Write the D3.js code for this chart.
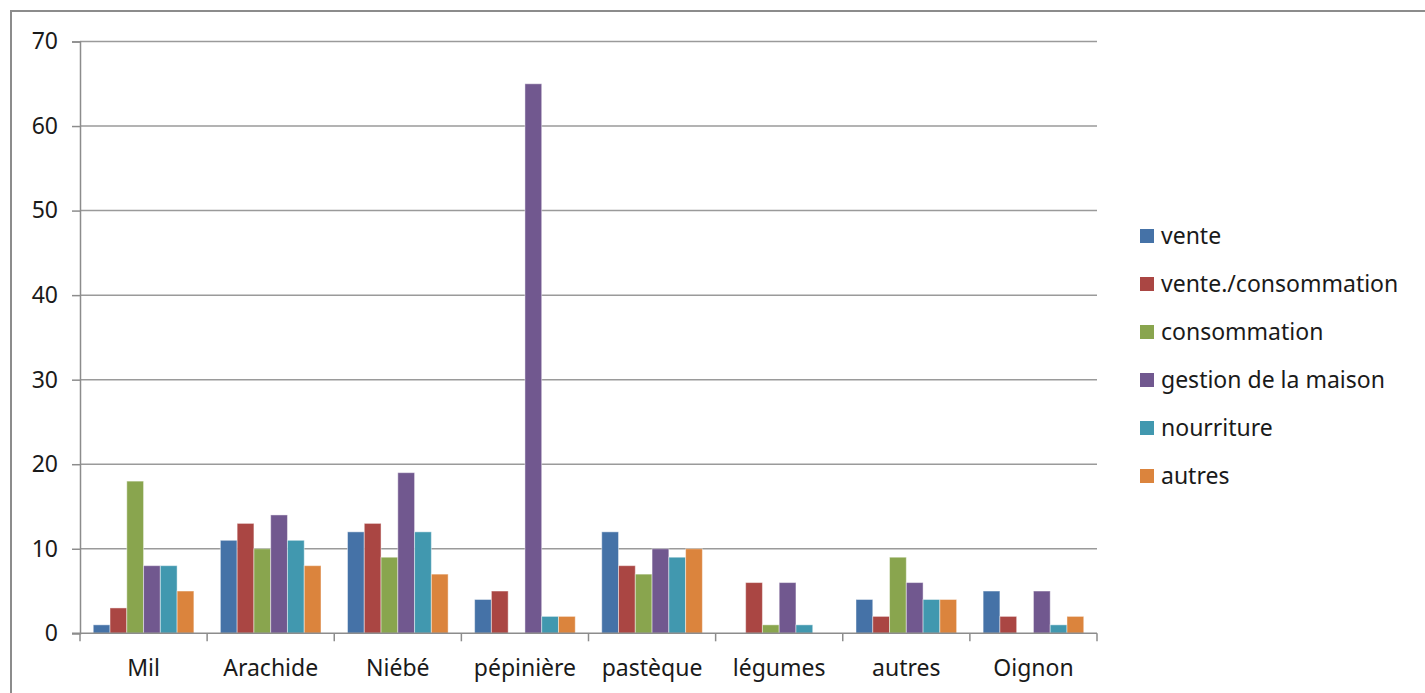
<!DOCTYPE html>
<html>
<head>
<meta charset="utf-8">
<script src="https://cdn.jsdelivr.net/npm/d3@7"></script>
<style>
  html, body { margin: 0; padding: 0; background: #fff; }
  svg { display: block; }
  text { font-family: "Noto Sans", "Open Sans", sans-serif; fill: #1a1a1a; }
</style>
</head>
<body>
<svg id="chart" width="1425" height="693"></svg>
<script>
// Crop categories
const categories = ["Mil", "Arachide", "Niébé", "pépinière", "pastèque", "légumes", "autres", "Oignon"];

// Usage series (one value per crop)
const seriesNames = ["vente", "vente./consommation", "consommation", "gestion de la maison", "nourriture", "autres"];
const vente        = [1, 11, 12, 4, 12, 0, 4, 5];
const venteConso   = [3, 13, 13, 5, 8, 6, 2, 2];
const consommation = [18, 10, 9, 0, 7, 1, 9, 0];
const gestion      = [8, 14, 19, 65, 10, 6, 6, 5];
const nourriture   = [8, 11, 12, 2, 9, 1, 4, 1];
const autres       = [5, 8, 7, 2, 10, 0, 4, 2];
const seriesValues = [vente, venteConso, consommation, gestion, nourriture, autres];

const seriesColors = ["#4572A7", "#AA4643", "#89A54E", "#71588F", "#4198AF", "#DB843D"];
const yTicks = [0, 10, 20, 30, 40, 50, 60, 70];

const svg = d3.select("#chart");

// Outer chart frame
svg.append("rect")
  .attr("x", 11).attr("y", 11)
  .attr("width", 1500).attr("height", 800)
  .attr("fill", "none").attr("stroke", "#8c8c8c").attr("stroke-width", 2);

const plot = { left: 80, right: 1097, top: 41.5, bottom: 633.3 };

const x0 = d3.scaleBand().domain(categories).range([plot.left, plot.right]).padding(0);
const x1 = d3.scaleBand().domain(d3.range(seriesNames.length))
  .range([0, x0.bandwidth()]).paddingInner(0).paddingOuter(0.79);
const y = d3.scaleLinear().domain([0, 70]).range([plot.bottom, plot.top]);

// Horizontal gridlines
svg.append("g")
  .selectAll("line")
  .data(yTicks.filter(d => d > 0))
  .join("line")
  .attr("x1", plot.left).attr("x2", plot.right)
  .attr("y1", d => y(d)).attr("y2", d => y(d))
  .attr("stroke", "#9a9a9a").attr("stroke-width", 1.5);

// Bars
const groups = svg.append("g")
  .selectAll("g")
  .data(categories)
  .join("g")
  .attr("transform", c => `translate(${x0(c)},0)`);

groups.selectAll("rect")
  .data((c, ci) => seriesValues.map((vals, si) => ({ si, v: vals[ci] })))
  .join("rect")
  .filter(d => d.v > 0)
  .attr("x", d => x1(d.si))
  .attr("width", x1.bandwidth())
  .attr("y", d => y(d.v))
  .attr("height", d => y(0) - y(d.v))
  .attr("fill", d => seriesColors[d.si])
  .attr("stroke", "#ffffff").attr("stroke-opacity", 0.45).attr("stroke-width", 1);

// Y axis
const yAxis = svg.append("g")
  .attr("transform", `translate(${plot.left},0)`)
  .call(d3.axisLeft(y).tickValues(yTicks).tickSize(8).tickPadding(14));
yAxis.select(".domain").attr("stroke", "#8c8c8c").attr("stroke-width", 1.5);
yAxis.selectAll(".tick line").attr("stroke", "#8c8c8c").attr("stroke-width", 1.5);
yAxis.selectAll(".tick text").style("font-size", "23px").attr("fill", "#1a1a1a")
  .style("font-family", "'Noto Sans', sans-serif");

// X axis with ticks at category boundaries
const xAxis = svg.append("g")
  .attr("transform", `translate(0,${plot.bottom})`);
xAxis.append("line")
  .attr("x1", plot.left - 8).attr("x2", plot.right)
  .attr("stroke", "#8c8c8c").attr("stroke-width", 1.5);
xAxis.selectAll("line.tk")
  .data(categories.concat(["end"]))
  .join("line").attr("class", "tk")
  .attr("x1", (d, i) => plot.left + i * x0.step())
  .attr("x2", (d, i) => plot.left + i * x0.step())
  .attr("y1", 0).attr("y2", 8)
  .attr("stroke", "#8c8c8c").attr("stroke-width", 1.5);
xAxis.selectAll("text")
  .data(categories)
  .join("text")
  .attr("x", c => x0(c) + x0.bandwidth() / 2)
  .attr("y", 35)
  .attr("dy", "0.35em")
  .attr("text-anchor", "middle")
  .style("font-size", "23px")
  .text(c => c);

// Legend
const legend = svg.append("g").attr("transform", "translate(1140,236)");
const items = legend.selectAll("g")
  .data(seriesNames)
  .join("g")
  .attr("transform", (d, i) => `translate(0,${i * 48})`);
items.append("rect")
  .attr("x", 0).attr("y", -7).attr("width", 14).attr("height", 14)
  .attr("fill", (d, i) => seriesColors[i]);
items.append("text")
  .attr("x", 21).attr("y", 0).attr("dy", "0.35em")
  .style("font-size", "23px")
  .text(d => d);
</script>
</body>
</html>
